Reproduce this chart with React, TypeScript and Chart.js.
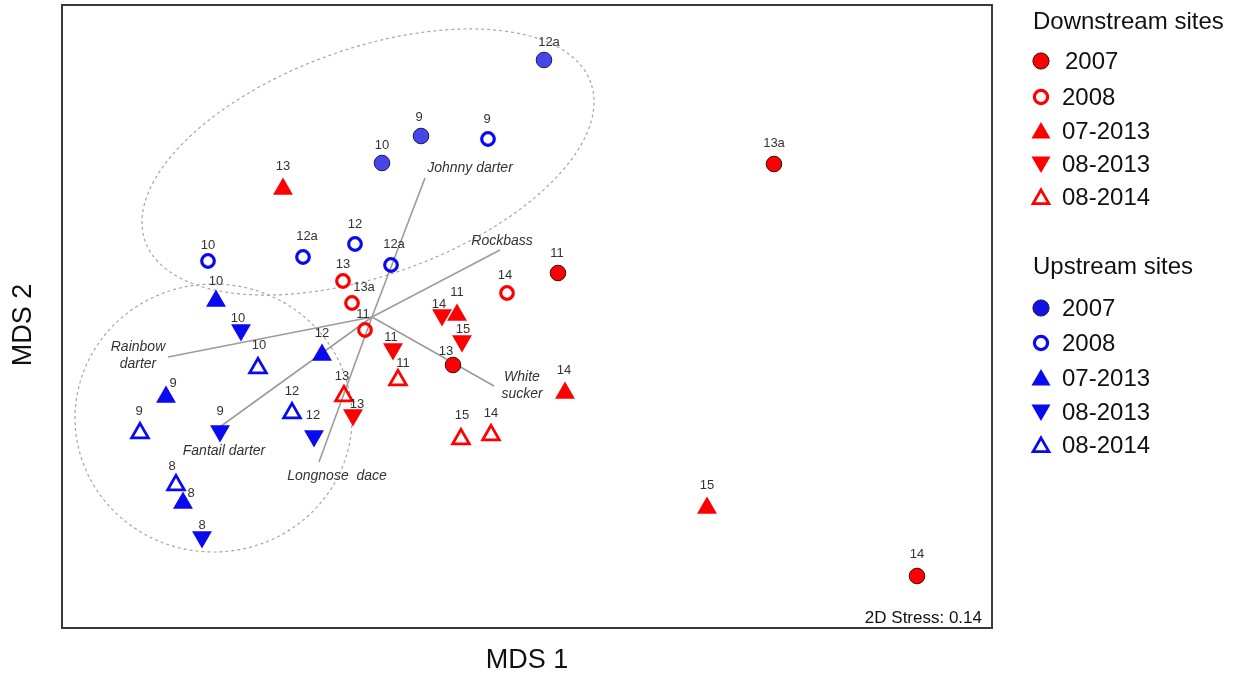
import React, { useEffect, useRef } from 'react';
import { Chart, registerables } from 'chart.js';
import { drawPoint } from 'chart.js/helpers';

Chart.register(...registerables);

// ---- MDS ordination coordinates (site label, MDS 1, MDS 2) ----
// Downstream sites
const down2007Sites = ['13a', '11', '13', '14'];
const down2007X = [2.47, 0.31, -0.74, 3.9];
const down2007Y = [1.52, 0.43, -0.49, -2.6];

const down2008Sites = ['13', '13a', '11', '14'];
const down2008X = [-1.84, -1.75, -1.62, -0.2];
const down2008Y = [0.35, 0.13, -0.14, 0.23];

const downJul13Sites = ['13', '11', '14', '15'];
const downJul13X = [-2.44, -0.7, 0.38, 1.8];
const downJul13Y = [1.27, 0.01, -0.77, -1.92];

const downAug13Sites = ['14', '15', '11', '13'];
const downAug13X = [-0.85, -0.65, -1.34, -1.74];
const downAug13Y = [0.01, -0.25, -0.33, -0.99];

const downAug14Sites = ['11', '13', '15', '14'];
const downAug14X = [-1.29, -1.83, -0.66, -0.36];
const downAug14Y = [-0.64, -0.8, -1.23, -1.19];

// Upstream sites
const up2007Sites = ['12a', '9', '10'];
const up2007X = [0.17, -1.06, -1.45];
const up2007Y = [2.56, 1.8, 1.53];

const up2008Sites = ['9', '12', '12a', '10', '12a'];
const up2008X = [-0.39, -1.72, -2.24, -3.19, -1.36];
const up2008Y = [1.77, 0.72, 0.59, 0.55, 0.51];

const upJul13Sites = ['10', '12', '9', '8'];
const upJul13X = [-3.11, -2.05, -3.61, -3.44];
const upJul13Y = [0.15, -0.39, -0.81, -1.87];

const upAug13Sites = ['10', '9', '12', '8'];
const upAug13X = [-2.86, -3.07, -2.13, -3.25];
const upAug13Y = [-0.14, -1.15, -1.2, -2.21];

const upAug14Sites = ['10', '12', '9', '8'];
const upAug14X = [-2.69, -2.35, -3.87, -3.51];
const upAug14Y = [-0.52, -0.97, -1.17, -1.69];

// Species correlation vectors
const vectorOrigin = [-1.55, -0.01];
const speciesNames = ['Johnny darter', 'Rockbass', 'White sucker', 'Longnose  dace', 'Fantail darter', 'Rainbow darter'];
const speciesEndX = [-1.02, -0.27, -0.33, -2.08, -3.1, -3.59];
const speciesEndY = [1.38, 0.66, -0.7, -1.46, -1.13, -0.41];

// Group ellipses: centre x, centre y, semi-axis a, semi-axis b, rotation (deg)
const groupEllipses = [
  [-1.59, 1.54, 2.365, 1.134, 19.6],
  [-3.135, -1.02, 1.385, 1.34, 0],
];

const stressText = '2D Stress: 0.14';
const legendYears = ['2007', '2008', '07-2013', '08-2013', '08-2014'];

// ---- styling ----
const RED = '#ff0000';
const BLUE_TRI = '#0a0af0';
const BLUE_DOT = '#4646ea';
const FONT = '"Liberation Sans", Arial, Helvetica, sans-serif';

// label nudges in pixels, relative to each marker
const down2007Nudge = [[0, -21], [-1, -20], [-7, -14], [0, -22]];
const down2008Nudge = [[0, -17], [12, -16], [-2, -16], [-2, -18]];
const downJul13Nudge = [[0, -23], [0, -23], [-1, -23], [0, -23]];
const downAug13Nudge = [[-3, -11], [1, -12], [-2, -12], [4, -11]];
const downAug14Nudge = [[5, -17], [-2, -20], [1, -24], [0, -22]];
const up2007Nudge = [[5, -18], [-2, -19], [0, -18]];
const up2008Nudge = [[-1, -20], [0, -20], [4, -21], [0, -16], [3, -21]];
const upJul13Nudge = [[0, -20], [0, -22], [7, -14], [8, -10]];
const upAug13Nudge = [[-3, -12], [0, -20], [-1, -21], [0, -12]];
const upAug14Nudge = [[1, -23], [0, -22], [-1, -22], [-4, -19]];

// vector label offsets (pixels from vector tip) and line splits
const speciesLabelLines = [['Johnny darter'], ['Rockbass'], ['White', 'sucker'], ['Longnose  dace'], ['Fantail darter'], ['Rainbow', 'darter']];
const speciesLabelNudge = [[45, -10], [2, -9], [28, -9], [18, 14], [7, 22], [-30, -10]];

type Marker = {
  pointStyle: string;
  rotation: number;
  radius: number;
  fill: string;
  stroke: string;
  borderWidth: number;
};

const mk = (pointStyle: string, rotation: number, radius: number, fill: string, stroke: string, borderWidth: number): Marker => ({
  pointStyle, rotation, radius, fill, stroke, borderWidth,
});

const TRANSPARENT = 'rgba(0,0,0,0)';

const downMarkers: Marker[] = [
  mk('circle', 0, 7.8, RED, '#3a1010', 1),
  mk('circle', 0, 6.3, TRANSPARENT, RED, 3.2),
  mk('triangle', 0, 11.5, RED, RED, 0),
  mk('triangle', 180, 11.5, RED, RED, 0),
  mk('triangle', 0, 9.6, TRANSPARENT, RED, 2.8),
];
const upMarkers: Marker[] = [
  mk('circle', 0, 7.8, BLUE_DOT, '#1c1c55', 1),
  mk('circle', 0, 6.3, TRANSPARENT, BLUE_TRI, 3.2),
  mk('triangle', 0, 11.5, BLUE_TRI, BLUE_TRI, 0),
  mk('triangle', 180, 11.5, BLUE_TRI, BLUE_TRI, 0),
  mk('triangle', 0, 9.6, TRANSPARENT, BLUE_TRI, 2.8),
];

type Series = { sites: string[]; xs: number[]; ys: number[]; nudge: number[][]; marker: Marker };

// drawing order: upstream first, then downstream
const series: Series[] = [
  { sites: up2007Sites, xs: up2007X, ys: up2007Y, nudge: up2007Nudge, marker: upMarkers[0] },
  { sites: up2008Sites, xs: up2008X, ys: up2008Y, nudge: up2008Nudge, marker: upMarkers[1] },
  { sites: upJul13Sites, xs: upJul13X, ys: upJul13Y, nudge: upJul13Nudge, marker: upMarkers[2] },
  { sites: upAug13Sites, xs: upAug13X, ys: upAug13Y, nudge: upAug13Nudge, marker: upMarkers[3] },
  { sites: upAug14Sites, xs: upAug14X, ys: upAug14Y, nudge: upAug14Nudge, marker: upMarkers[4] },
  { sites: down2007Sites, xs: down2007X, ys: down2007Y, nudge: down2007Nudge, marker: downMarkers[0] },
  { sites: down2008Sites, xs: down2008X, ys: down2008Y, nudge: down2008Nudge, marker: downMarkers[1] },
  { sites: downAug13Sites, xs: downAug13X, ys: downAug13Y, nudge: downAug13Nudge, marker: downMarkers[3] },
  { sites: downJul13Sites, xs: downJul13X, ys: downJul13Y, nudge: downJul13Nudge, marker: downMarkers[2] },
  { sites: downAug14Sites, xs: downAug14X, ys: downAug14Y, nudge: downAug14Nudge, marker: downMarkers[4] },
];

const drawMarker = (ctx: CanvasRenderingContext2D, m: Marker, x: number, y: number) => {
  ctx.save();
  ctx.fillStyle = m.fill;
  ctx.strokeStyle = m.stroke;
  ctx.lineWidth = m.borderWidth;
  drawPoint(ctx, { pointStyle: m.pointStyle, rotation: m.rotation, radius: m.radius, borderWidth: m.borderWidth } as any, x, y);
  ctx.restore();
};

const overlayPlugin = {
  id: 'mdsOverlay',
  beforeDatasetsDraw(chart: any) {
    const { ctx, chartArea } = chart;
    const xs = chart.scales.x;
    const ys = chart.scales.y;
    ctx.save();
    ctx.beginPath();
    ctx.rect(chartArea.left, chartArea.top, chartArea.right - chartArea.left, chartArea.bottom - chartArea.top);
    ctx.clip();

    // group ellipses
    ctx.strokeStyle = '#a6a6a6';
    ctx.lineWidth = 1.2;
    ctx.setLineDash([3, 3]);
    groupEllipses.forEach(([cx, cy, a, b, rotDeg]) => {
      const th = (rotDeg * Math.PI) / 180;
      ctx.beginPath();
      for (let k = 0; k <= 360; k++) {
        const t = (k * Math.PI) / 180;
        const ux = a * Math.cos(t);
        const uy = b * Math.sin(t);
        const dx = cx + ux * Math.cos(th) - uy * Math.sin(th);
        const dy = cy + ux * Math.sin(th) + uy * Math.cos(th);
        const px = xs.getPixelForValue(dx);
        const py = ys.getPixelForValue(dy);
        if (k === 0) ctx.moveTo(px, py);
        else ctx.lineTo(px, py);
      }
      ctx.stroke();
    });

    // species vectors
    ctx.setLineDash([]);
    ctx.strokeStyle = '#9c9c9c';
    ctx.lineWidth = 1.6;
    const ox = xs.getPixelForValue(vectorOrigin[0]);
    const oy = ys.getPixelForValue(vectorOrigin[1]);
    speciesNames.forEach((_, i) => {
      ctx.beginPath();
      ctx.moveTo(ox, oy);
      ctx.lineTo(xs.getPixelForValue(speciesEndX[i]), ys.getPixelForValue(speciesEndY[i]));
      ctx.stroke();
    });

    ctx.fillStyle = '#333333';
    ctx.font = `italic 14px ${FONT}`;
    ctx.textAlign = 'center';
    ctx.textBaseline = 'middle';
    speciesNames.forEach((_, i) => {
      const px = xs.getPixelForValue(speciesEndX[i]) + speciesLabelNudge[i][0];
      const py = ys.getPixelForValue(speciesEndY[i]) + speciesLabelNudge[i][1];
      speciesLabelLines[i].forEach((line, j) => ctx.fillText(line, px, py + j * 17));
    });
    ctx.restore();
  },
  afterDatasetsDraw(chart: any) {
    const { ctx } = chart;
    ctx.save();
    ctx.fillStyle = '#333333';
    ctx.font = `13px ${FONT}`;
    ctx.textAlign = 'center';
    ctx.textBaseline = 'middle';
    series.forEach((s, i) => {
      const meta = chart.getDatasetMeta(i);
      meta.data.forEach((el: any, j: number) => {
        ctx.fillText(s.sites[j], el.x + s.nudge[j][0], el.y + s.nudge[j][1]);
      });
    });
    ctx.restore();
  },
  afterDraw(chart: any) {
    const { ctx, chartArea } = chart;
    ctx.save();
    // frame
    ctx.strokeStyle = '#3a3a3a';
    ctx.lineWidth = 2;
    ctx.strokeRect(chartArea.left, chartArea.top, chartArea.right - chartArea.left, chartArea.bottom - chartArea.top);

    // stress
    ctx.fillStyle = '#111111';
    ctx.font = `17px ${FONT}`;
    ctx.textAlign = 'right';
    ctx.textBaseline = 'middle';
    ctx.fillText(stressText, chartArea.right - 10, chartArea.bottom - 10);

    // axis titles
    ctx.font = `27px ${FONT}`;
    ctx.textAlign = 'center';
    ctx.fillText('MDS 1', (chartArea.left + chartArea.right) / 2, 661);
    ctx.save();
    ctx.translate(24, 325);
    ctx.rotate(-Math.PI / 2);
    ctx.fillText('MDS 2', 0, 0);
    ctx.restore();

    // legend
    const groups = [
      { title: 'Downstream sites', titleY: 22, rows: [61, 97, 131, 164, 197], markers: downMarkers },
      { title: 'Upstream sites', titleY: 267, rows: [308, 343, 378, 412, 445], markers: upMarkers },
    ];
    groups.forEach((g) => {
      ctx.fillStyle = '#111111';
      ctx.font = `24px ${FONT}`;
      ctx.textAlign = 'left';
      ctx.textBaseline = 'middle';
      ctx.fillText(g.title, 1033, g.titleY);
      g.rows.forEach((ry, k) => {
        const m = g.markers[k];
        const lm = { ...m, radius: m.pointStyle === 'circle' ? m.radius + 0.3 : m.radius - 0.5 };
        if (k === 0 && g === groups[1]) lm.fill = '#1414e0';
        drawMarker(ctx, lm, 1041, ry + (m.pointStyle === 'triangle' ? (m.rotation ? -2 : 2) : 0));
        ctx.fillStyle = '#111111';
        ctx.fillText(legendYears[k], k === 0 && g === groups[0] ? 1065 : 1062, ry + 1);
      });
    });
    ctx.restore();
  },
};

export default function App() {
  const canvasRef = useRef<HTMLCanvasElement | null>(null);

  useEffect(() => {
    if (!canvasRef.current) return;
    const chart = new Chart(canvasRef.current, {
      type: 'scatter',
      data: {
        datasets: series.map((s) => ({
          data: s.xs.map((x, i) => ({ x, y: s.ys[i] })),
          pointStyle: s.marker.pointStyle as any,
          rotation: s.marker.rotation,
          pointRadius: s.marker.radius,
          pointHoverRadius: s.marker.radius,
          backgroundColor: s.marker.fill,
          borderColor: s.marker.stroke,
          borderWidth: s.marker.borderWidth,
        })),
      },
      options: {
        animation: false,
        responsive: false,
        devicePixelRatio: 1,
        layout: { autoPadding: false, padding: { left: 62, top: 5, right: 245, bottom: 48 } },
        scales: {
          x: { type: 'linear', min: -4.65, max: 4.65, display: false },
          y: { type: 'linear', min: -3.12, max: 3.11, display: false },
        },
        plugins: {
          legend: { display: false },
          tooltip: { enabled: false },
        },
        events: [],
      },
      plugins: [overlayPlugin],
    });
    return () => chart.destroy();
  }, []);

  return (
    <div style={{ position: 'fixed', left: 0, top: 0, width: 1237, height: 676, background: '#ffffff' }}>
      <canvas ref={canvasRef} width={1237} height={676} style={{ width: 1237, height: 676, display: 'block' }} />
    </div>
  );
}
